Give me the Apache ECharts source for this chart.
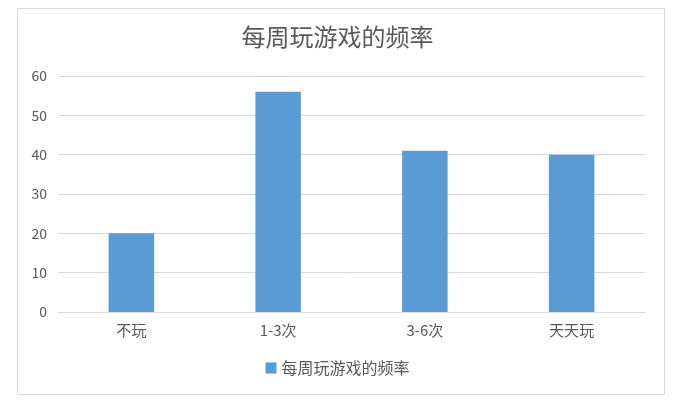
<!DOCTYPE html>
<html>
<head>
<meta charset="utf-8">
<script src="https://cdn.jsdelivr.net/npm/echarts@6/dist/echarts.min.js"></script>
<style>
  html, body { margin: 0; padding: 0; background: #fff; }
  #main { width: 675px; height: 402px; }
</style>
</head>
<body>
<div id="main"></div>
<script>
    // 数据
    var categories = ['不玩', '1-3次', '3-6次', '天天玩'];
    var counts = [20, 56, 41, 40];
    var seriesName = '每周玩游戏的频率';

    var myChart = echarts.init(document.getElementById('main'));
    var font = '"Noto Sans CJK SC", "Microsoft YaHei", sans-serif';

    var option = {
        backgroundColor: '#fff',
        textStyle: { fontFamily: font },
        title: {
            text: '每周玩游戏的频率',
            left: 'center',
            top: 20,
            textStyle: { fontSize: 24, fontWeight: 'normal', color: '#595959', fontFamily: font }
        },
        graphic: [{
            type: 'rect',
            shape: { x: 17.5, y: 8.5, width: 647, height: 386 },
            style: { fill: 'none', stroke: '#d9d9d9', lineWidth: 1 },
            silent: true
        }],
        legend: {
            data: [seriesName],
            bottom: 21,
            left: 'center',
            icon: 'rect',
            itemWidth: 11,
            itemHeight: 11,
            itemGap: 6,
            textStyle: { fontSize: 16, color: '#595959', fontFamily: font }
        },
        grid: { left: 58, right: 30, top: 76, bottom: 90 },
        xAxis: {
            type: 'category',
            data: categories,
            axisTick: { show: false },
            axisLine: { lineStyle: { color: '#d9d9d9' } },
            axisLabel: { color: '#595959', fontSize: 15, margin: 11, fontFamily: font }
        },
        yAxis: {
            type: 'value',
            min: 0,
            max: 60,
            interval: 10,
            axisLine: { show: false },
            axisTick: { show: false },
            axisLabel: { color: '#595959', fontSize: 14, margin: 11, fontFamily: font },
            splitLine: { lineStyle: { color: '#d9d9d9' } }
        },
        series: [{
            name: seriesName,
            type: 'bar',
            data: counts,
            barWidth: '31%',
            itemStyle: { color: '#5b9bd5' }
        }]
    };
    myChart.setOption(option);
</script>
</body>
</html>
